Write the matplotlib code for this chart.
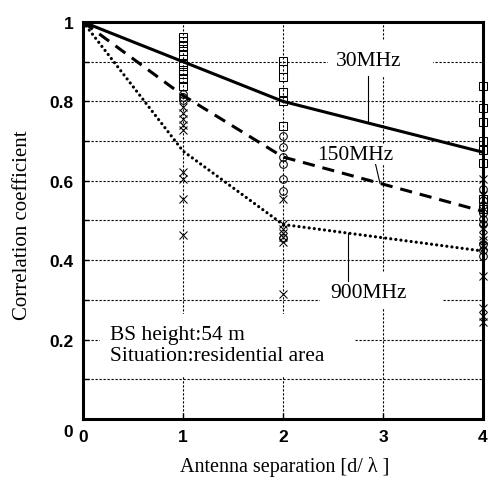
import numpy as np
import matplotlib
matplotlib.use("Agg")
import matplotlib.pyplot as plt
from matplotlib.patches import Rectangle
from matplotlib.transforms import ScaledTranslation

# ---- data ----
dist = [0, 1, 2, 4]
corr_30 = [1.0, 0.90, 0.80, 0.672]
corr_150 = [1.0, 0.815, 0.66, 0.523]
corr_900 = [1.0, 0.675, 0.49, 0.423]

sq_x1 = [0.962, 0.952, 0.94, 0.927, 0.917, 0.894, 0.88, 0.869, 0.856, 0.84]
ci_x1 = [0.819, 0.811, 0.803]
xx_x1 = [0.786, 0.771, 0.756, 0.74, 0.728, 0.622, 0.605, 0.554, 0.463]

sq_x2 = [0.902, 0.882, 0.861, 0.824, 0.80, 0.738]
ci_x2 = [0.713, 0.685, 0.66, 0.642, 0.605, 0.574, 0.455]
xx_x2 = [0.554, 0.49, 0.478, 0.468, 0.458, 0.446, 0.315]

sq_x4 = [0.839, 0.783, 0.748, 0.70, 0.678, 0.645, 0.555, 0.53]
ci_x4 = [0.58, 0.54, 0.52, 0.505, 0.49, 0.44, 0.425, 0.41]
xx_x4 = [0.605, 0.565, 0.48, 0.46, 0.45, 0.435, 0.36, 0.28, 0.26, 0.245]

xticks = [0, 1, 2, 3, 4]
yticks = [0, 0.2, 0.4, 0.6, 0.8, 1.0]
ytick_labels = ["0", "0.2", "0.4", "0.6", "0.8", "1"]

serif = "Liberation Serif"

fig = plt.figure(figsize=(4.89, 4.89), dpi=100)
ax = fig.add_axes([0.1697, 0.1411, 0.8180, 0.8119])
ax.set_xlim(0, 4)
ax.set_ylim(0, 1)

# grid (dotted)
for gy in np.arange(0.1, 1.0, 0.1):
    ax.axhline(gy, color="black", lw=0.8, dashes=(2, 1.6), zorder=1)
for gx in [1, 2, 3]:
    ax.axvline(gx, color="black", lw=0.8, dashes=(2, 1.6), zorder=1)

# white gaps behind labels
for (x0, x1, y0, y1) in [(2.45, 3.50, 0.861, 0.952),
                         (2.37, 3.60, 0.277, 0.370),
                         (0.17, 2.72, 0.105, 0.264)]:
    ax.add_patch(Rectangle((x0, y0), x1 - x0, y1 - y0, facecolor="white",
                           edgecolor="none", zorder=2))

# curves
ax.plot(dist, corr_30, color="black", lw=2.2, zorder=3, solid_capstyle="butt")
l150, = ax.plot(dist, corr_150, color="black", lw=2.2, zorder=3)
l150.set_dashes((4, 2.6))
l900, = ax.plot(dist, corr_900, color="black", lw=2.3, zorder=3,
                dash_capstyle="round")
l900.set_dashes((0.01, 1.6))

# scatter markers
mk = dict(color="black", ls="none", ms=5.5, mew=0.75, mfc="none", zorder=4,
          clip_on=False)
for xv, sq, ci, xx in [(1, sq_x1, ci_x1, xx_x1), (2, sq_x2, ci_x2, xx_x2),
                       (4, sq_x4, ci_x4, xx_x4)]:
    ax.plot([xv] * len(sq), sq, marker="s", **mk)
    ax.plot([xv] * len(ci), ci, marker="o", **mk)
    ax.plot([xv] * len(xx), xx, marker="x", **mk)

# labels with pointers
fs = 15.5
ax.text(2.86, 0.902, "30MHz", fontfamily=serif, fontsize=fs, ha="center",
        va="center", zorder=6)
ax.plot([2.85, 2.85], [0.864, np.interp(2.85, dist, corr_30)],
        color="black", lw=0.8, zorder=5)

ax.text(2.72, 0.667, "150MHz", fontfamily=serif, fontsize=fs, ha="center",
        va="center", zorder=6,
        bbox=dict(boxstyle="square,pad=0.02", fc="white", ec="none"))
ax.plot([2.92, 2.97], [0.648, np.interp(2.97, dist, corr_150)],
        color="black", lw=0.8, zorder=5)

ax.text(2.85, 0.318, "900MHz", fontfamily=serif, fontsize=fs, ha="center",
        va="center", zorder=6)
ax.plot([2.65, 2.65], [0.348, np.interp(2.65, dist, corr_900)],
        color="black", lw=0.8, zorder=5)

ax.text(0.27, 0.186, "BS height:54 m\nSituation:residential area",
        fontfamily=serif, fontsize=fs, ha="left", va="center",
        linespacing=1.15, zorder=6)

# axes styling
for s in ax.spines.values():
    s.set_linewidth(2.2)
    s.set_zorder(5)
ax.set_xticks(xticks)
ax.set_yticks(yticks)
ax.set_yticks(np.arange(0.1, 1.0, 0.2), minor=True)
ax.set_yticklabels(ytick_labels)
ax.tick_params(axis="both", which="both", direction="in", length=4,
               width=1, labelsize=12.5)
ax.tick_params(axis="x", pad=7)
ax.tick_params(axis="y", pad=7)
for lab in ax.get_xticklabels() + ax.get_yticklabels():
    lab.set_fontfamily("Liberation Sans")
    lab.set_fontweight("bold")
ylabs = ax.get_yticklabels()
ylabs[0].set_transform(ylabs[0].get_transform() +
                       ScaledTranslation(0, -11 / 100, fig.dpi_scale_trans))

ax.set_xlabel("Antenna separation [d/ λ ]", fontfamily=serif, fontsize=14.5)
ax.set_ylabel("Correlation coefficient", fontfamily=serif, fontsize=15)
ax.xaxis.set_label_coords(0.505, -0.118)
ax.yaxis.set_label_coords(-0.152, 0.49)
ax.xaxis.label.set_verticalalignment("center")
ax.yaxis.label.set_verticalalignment("center")

fig.savefig("out.png", dpi=100, facecolor="white")
